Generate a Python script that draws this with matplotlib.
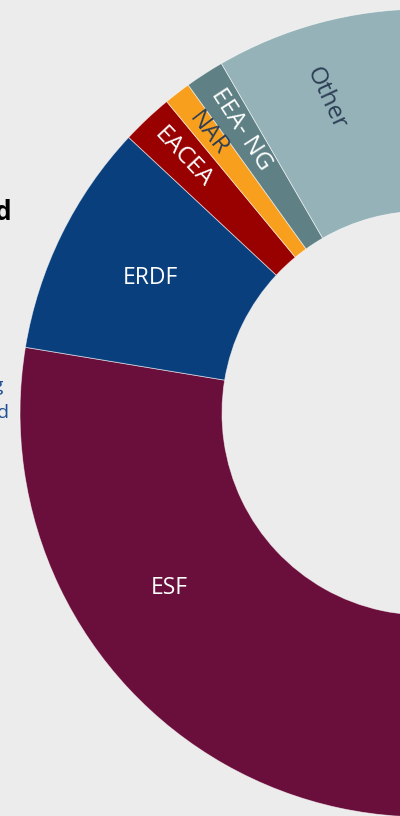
import numpy as np
import matplotlib.pyplot as plt

funds = ["ESF", "ERDF", "EACEA", "NAR", "EEA- NG", "Other"]
shares = [77.6, 9.35, 2.06, 1.07, 1.56, 8.36]
colors = ["#6a0f3b", "#0a3f7e", "#990000", "#f8a01e", "#5f8185", "#94b2b7"]
text_colors = ["white", "white", "white", "#2c3e55", "white", "#2c3e55"]

plt.rcParams["font.family"] = ["Open Sans", "DejaVu Sans"]

bg = "#ececec"
fig = plt.figure(figsize=(4.0, 8.16), dpi=100, facecolor=bg)
ax = fig.add_axes([0, 0, 1, 1])
ax.set_facecolor(bg)

# donut centre sits off to the right of the visible area (px coords)
cx, cy, R = 424, 413, 404
W, H = 400, 816

wedges, _ = ax.pie(
    shares,
    colors=colors,
    startangle=90,
    counterclock=False,
    radius=1.0,
    wedgeprops=dict(width=0.5, edgecolor=(1, 1, 1, 0.6), linewidth=0.6),
)

ax.set_xlim(-cx / R, (W - cx) / R)
ax.set_ylim((cy - H) / R, cy / R)
ax.set_aspect("auto")
ax.axis("off")

# label placement: (angle, radius, rotation, size); None -> from wedge
label_pos = {
    "ESF": (214.5, 0.765, 0, 16.5),
    "ERDF": (None, 0.755, 0, 16.5),
    "EACEA": (None, 0.87, None, 17.5),
    "NAR": (None, 0.875, None, 17.5),
    "EEA- NG": (None, 0.835, None, 17.5),
    "Other": (107.4, 0.815, -65, 17.5),
}

for w, name, tc in zip(wedges, funds, text_colors):
    mid = (w.theta1 + w.theta2) / 2
    ang, rad, rot, fs = label_pos[name]
    if ang is None:
        ang = mid
    if rot is None:
        rot = ang - 180
    x = rad * np.cos(np.radians(ang))
    y = rad * np.sin(np.radians(ang))
    ax.text(x, y, name, color=tc, fontsize=fs, rotation=rot,
            rotation_mode="anchor", ha="center", va="center")

# clipped text from the neighbouring panel
fig.text(12 / W, 1 - 212 / H, "Fund", ha="right", va="center",
         fontsize=19, fontweight="bold", color="black")
fig.text(4 / W, 1 - 386 / H, "Funding", ha="right", va="center",
         fontsize=14, color="#1f4f96")
fig.text(9 / W, 1 - 413 / H, "received", ha="right", va="center",
         fontsize=14, color="#1f4f96")

fig.savefig("out.png", dpi=100, facecolor=bg)
